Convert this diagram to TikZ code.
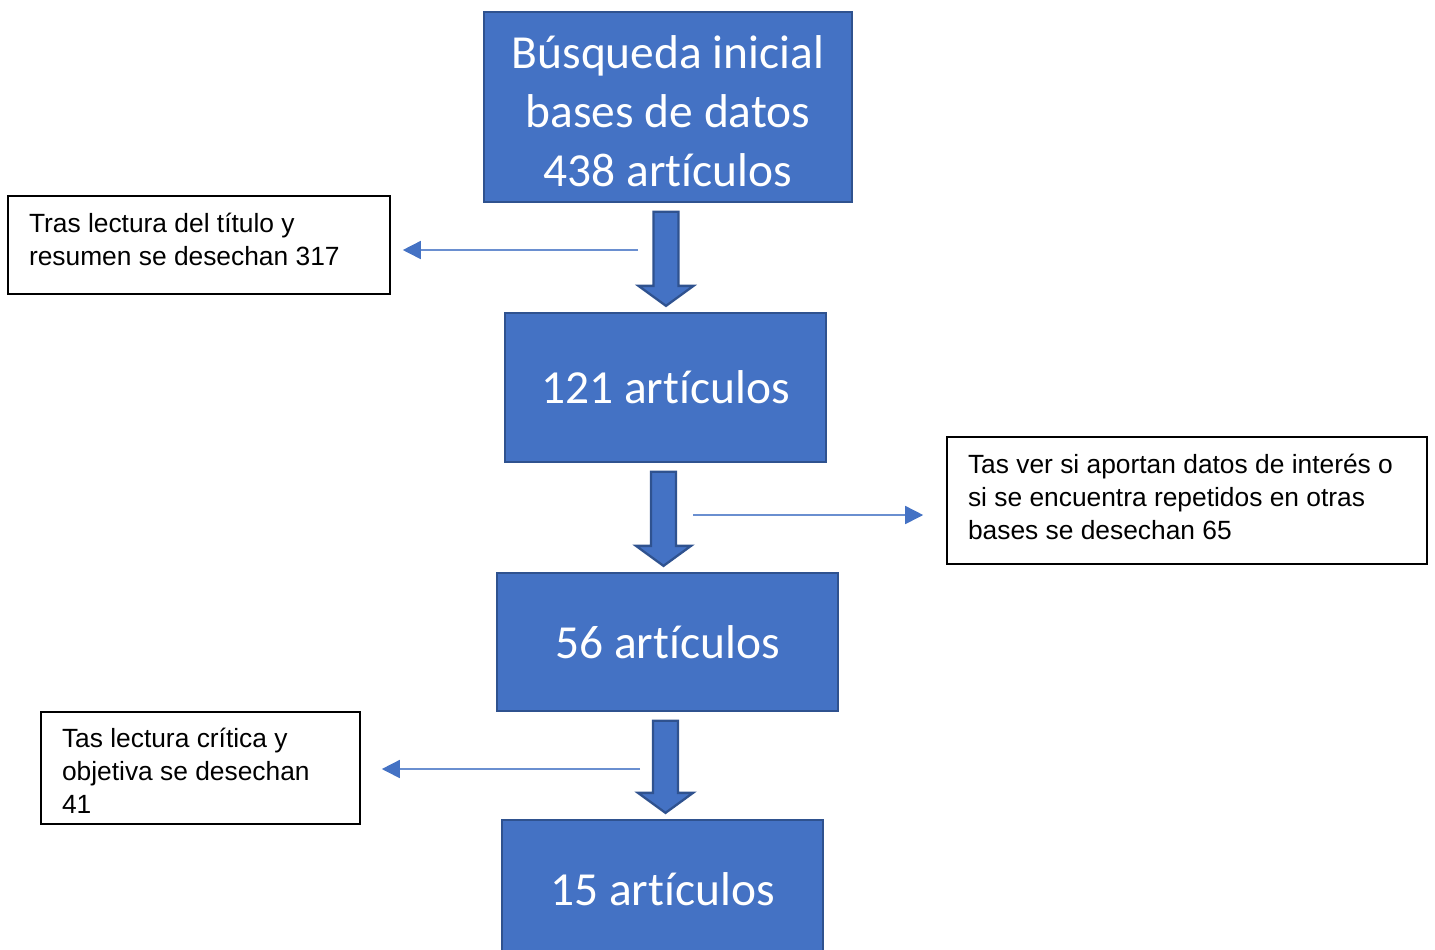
\documentclass[tikz,border=0pt]{standalone}
\usepackage{fontspec}
\setmainfont{Liberation Sans}
\newfontfamily\boxfont[RawFeature=-liga]{Carlito}
\usetikzlibrary{arrows.meta,calc}

\definecolor{boxblue}{HTML}{4472C4}
\definecolor{boxedge}{HTML}{2F528F}
\definecolor{lineblue}{HTML}{6A8FD0}

\tikzset{
  stagebox/.style={draw=boxedge, line width=1.3pt, fill=boxblue, text=white,
    font=\boxfont\fontsize{27}{33.6}\selectfont, align=center, inner sep=0pt},
  notebox/.style={draw=black, line width=0.9pt, align=left,
    font=\fontsize{15}{18.8}\selectfont, inner xsep=0.42cm, inner ysep=0pt},
  bigarrow/.style={draw=boxedge, line width=1.3pt, fill=boxblue, line join=miter},
  thinarrow/.style={draw=lineblue, line width=0.9pt,
    -{Triangle[length=0.36cm,width=0.36cm,color=boxblue]}},
}

% thick down arrow from box #1 to box #2
\newcommand{\downblock}[2]{%
  \coordinate (tip) at ($(#1.south |- #2.north)+(-0.04,0.12)$);
  \filldraw[bigarrow] ($(#1.south)+(-0.29,-0.17)$)
    -- ($(tip)+(-0.25,0.4)$) -- ++(-0.30,0)
    -- (tip)
    -- ($(tip)+(0.55,0.4)$) -- ++(-0.30,0)
    -- ($(#1.south)+(0.21,-0.17)$) -- cycle;}

% shift a text block up or down inside its box
\newcommand{\liftby}[2]{\raisebox{#1}[\height][\depth]{#2}}

\begin{document}
\begin{tikzpicture}

    \useasboundingbox (0,0) rectangle (28.7,-18.98);
    \clip (0,0) rectangle (28.7,-18.98);

    \node[stagebox, minimum width=7.36cm, minimum height=3.8cm] (b1) at (13.36,-2.14)
        {\liftby{-0.09cm}{\parbox{7cm}{\centering Búsqueda inicial\\bases de datos\\438 artículos}}};
    \node[stagebox, minimum width=6.42cm, minimum height=2.98cm] (b2) at (13.31,-7.75)
        {121 artículos};
    \node[stagebox, minimum width=6.82cm, minimum height=2.76cm] (b3) at (13.35,-12.84)
        {56 artículos};
    \node[stagebox, minimum width=6.42cm, minimum height=2.76cm] (b4) at (13.25,-17.78)
        {15 artículos};

    \node[notebox, minimum width=7.64cm, minimum height=1.96cm] (s1) at (3.98,-4.9)
        {\liftby{0.11cm}{\parbox{6.8cm}{Tras lectura del título y\\resumen se desechan 317}}};
    \node[notebox, minimum width=9.6cm, minimum height=2.54cm] (s2) at (23.74,-10.01)
        {\liftby{0.08cm}{\parbox{8.76cm}{Tas ver si aportan datos de interés o\\si se encuentra repetidos en otras\\bases se desechan 65}}};
    \node[notebox, minimum width=6.38cm, minimum height=2.24cm] (s3) at (4.01,-15.36)
        {\liftby{-0.06cm}{\parbox{5.54cm}{Tas lectura crítica y\\objetiva se desechan\\41}}};

    \downblock{b1}{b2}
    \downblock{b2}{b3}
    \downblock{b3}{b4}

    \coordinate (t1) at (12.76,-5.0);
    \coordinate (t2) at (13.86,-10.3);
    \coordinate (t3) at (12.8,-15.38);

    \draw[thinarrow, shorten >=0.24cm] (t1) -- (t1 -| s1.east);
    \draw[thinarrow, shorten >=0.46cm] (t2) -- (t2 -| s2.west);
    \draw[thinarrow, shorten >=0.42cm] (t3) -- (t3 -| s3.east);

\end{tikzpicture}
\end{document}
